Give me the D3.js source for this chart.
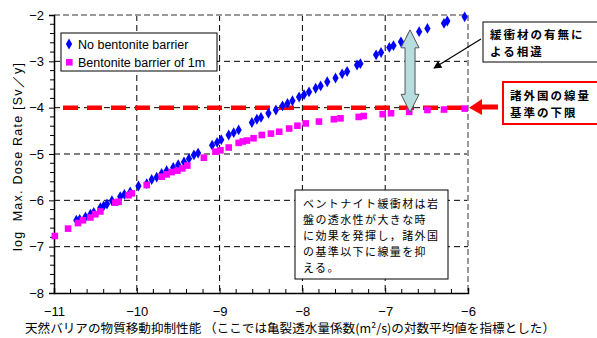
<!DOCTYPE html>
<html>
<head>
<meta charset="utf-8">
<script src="https://cdn.jsdelivr.net/npm/d3@7"></script>
<style>
  html, body { margin: 0; padding: 0; background: #fff; }
  svg { display: block; }
</style>
</head>
<body>
<svg id="chart" width="597" height="338"></svg>
<script>
// Log of maximum dose rate vs. log of fracture transmissivity
const noBarrier = [
  [-10.73,-6.43],[-10.69,-6.41],[-10.62,-6.36],[-10.56,-6.30],[-10.52,-6.26],
  [-10.44,-6.16],[-10.40,-6.12],[-10.36,-6.08],[-10.30,-6.01],[-10.20,-5.92],
  [-10.15,-5.87],[-10.08,-5.82],[-9.98,-5.69],[-9.88,-5.64],[-9.82,-5.55],
  [-9.76,-5.50],[-9.70,-5.42],[-9.64,-5.36],[-9.56,-5.29],[-9.50,-5.23],
  [-9.43,-5.17],[-9.37,-5.10],[-9.31,-5.02],[-9.26,-4.98],[-9.09,-4.81],
  [-9.03,-4.75],[-8.98,-4.69],[-8.89,-4.59],[-8.83,-4.54],[-8.77,-4.48],
  [-8.61,-4.32],[-8.55,-4.25],[-8.50,-4.21],[-8.41,-4.12],[-8.32,-4.05],
  [-8.24,-3.96],[-8.18,-3.91],[-8.12,-3.85],[-8.04,-3.77],[-7.98,-3.72],
  [-7.92,-3.66],[-7.84,-3.58],[-7.78,-3.53],[-7.70,-3.44],[-7.60,-3.36],
  [-7.52,-3.27],[-7.46,-3.22],[-7.34,-3.08],[-7.30,-3.05],[-7.11,-2.86],
  [-7.05,-2.81],[-6.95,-2.70],[-6.90,-2.66],[-6.81,-2.58],[-6.71,-2.47],
  [-6.59,-2.36],[-6.49,-2.29],[-6.29,-2.18],[-6.25,-2.13],[-6.04,-2.04]
];
const withBarrier = [
  [-10.99,-6.77],[-10.83,-6.61],[-10.71,-6.49],[-10.65,-6.43],[-10.56,-6.37],
  [-10.50,-6.30],[-10.44,-6.24],[-10.26,-6.05],[-10.22,-6.03],[-10.10,-5.89],
  [-10.06,-5.85],[-9.88,-5.67],[-9.70,-5.49],[-9.64,-5.44],[-9.58,-5.39],
  [-9.51,-5.36],[-9.45,-5.31],[-9.39,-5.25],[-9.19,-5.08],[-9.05,-4.95],
  [-8.99,-4.92],[-8.89,-4.86],[-8.77,-4.76],[-8.72,-4.73],[-8.67,-4.71],
  [-8.59,-4.66],[-8.49,-4.59],[-8.38,-4.56],[-8.28,-4.52],[-8.16,-4.45],
  [-8.06,-4.39],[-7.96,-4.34],[-7.80,-4.30],[-7.62,-4.25],[-7.54,-4.23],
  [-7.32,-4.20],[-7.26,-4.18],[-7.03,-4.14],[-6.93,-4.12],[-6.71,-4.09],
  [-6.49,-4.05],[-6.29,-4.04],[-6.04,-4.02]
];
const seriesNames = ["No bentonite barrier", "Bentonite barrier of 1m"];
const xTicks = [-11, -10, -9, -8, -7, -6];
const yTicks = [-8, -7, -6, -5, -4, -3, -2];
const limitValue = -4;           // lower bound of foreign dose criteria
const gapAt = -6.7;              // where the difference arrow is placed
const xTitle = "天然バリアの物質移動抑制性能 （ここでは亀裂透水量係数(m²/s)の対数平均値を指標とした）";
const yTitle = "log\u00a0\u00a0Max. Dose Rate [Sv／y]";
const noteDiff = ["緩衝材の有無に", "よる相違"];
const noteLimit = ["諸外国の線量", "基準の下限"];
const noteMain = ["ベントナイト緩衝材は岩", "盤の透水性が大きな時", "に効果を発揮し，諸外国", "の基準以下に線量を抑", "える。"];

const svg = d3.select("#chart");
const L = 54, R = 468, T = 15, B = 293;
const x = d3.scaleLinear().domain([-11, -6]).range([L, R]);
const y = d3.scaleLinear().domain([-8, -2]).range([B, T]);
const numFont = "'Liberation Sans', Arial, sans-serif";
const jpFont = "'Noto Sans CJK JP', sans-serif";

// grid
const grid = svg.append("g").attr("stroke", "#000").attr("stroke-width", 1).attr("stroke-dasharray", "6,4");
grid.selectAll("line.v").data(xTicks.slice(1, -1)).join("line")
  .attr("x1", d => x(d)).attr("x2", d => x(d)).attr("y1", T).attr("y2", B);
grid.selectAll("line.h").data(yTicks.slice(1, -1)).join("line")
  .attr("x1", L).attr("x2", R).attr("y1", d => y(d)).attr("y2", d => y(d));

// top and right frame (grey dashed)
svg.append("path")
  .attr("d", `M${L},${T}H${R}V${B}`)
  .attr("fill", "none").attr("stroke", "#999").attr("stroke-width", 2).attr("stroke-dasharray", "6,3");

// axes
const yAxis = d3.axisLeft(y).tickValues(yTicks).tickSize(5).tickPadding(4).tickFormat(d3.format("d"));
const gy = svg.append("g").attr("transform", `translate(${L},0)`).call(yAxis);
const yMinor = d3.range(-8, -2.0001, 0.2).filter(v => Math.abs(v - Math.round(v)) > 0.01);
gy.selectAll("line.minor").data(yMinor).join("line").attr("class", "minor")
  .attr("x1", -4).attr("x2", 0).attr("y1", d => y(d)).attr("y2", d => y(d)).attr("stroke", "#000");

const xAxis = d3.axisBottom(x).tickValues(xTicks).tickSize(-5).tickPadding(14).tickFormat(d3.format("d"));
const gx = svg.append("g").attr("transform", `translate(0,${B})`).call(xAxis);
const xMinor = d3.range(-11, -6.0001, 0.2).filter(v => Math.abs(v - Math.round(v)) > 0.01);
gx.selectAll("line.minor").data(xMinor).join("line").attr("class", "minor")
  .attr("x1", d => x(d)).attr("x2", d => x(d)).attr("y1", -4).attr("y2", 0).attr("stroke", "#000");

[gx, gy].forEach(g => {
  g.select(".domain").attr("stroke", "#000").attr("stroke-width", 1.5);
  g.selectAll("text").attr("font-family", numFont).attr("font-size", 13).attr("fill", "#000");
});
gy.selectAll(".tick text").attr("x", -10);

// limit line
svg.append("line")
  .attr("x1", L).attr("x2", R).attr("y1", y(limitValue)).attr("y2", y(limitValue))
  .attr("stroke", "#ff0000").attr("stroke-width", 4.5).attr("stroke-dasharray", "15,9").attr("stroke-dashoffset", 15);

// data points
const diamond = d3.symbol().type(d3.symbolDiamond).size(34);
svg.append("g").selectAll("path").data(noBarrier).join("path")
  .attr("d", diamond)
  .attr("transform", d => `translate(${x(d[0])},${y(d[1])})`)
  .attr("fill", "#0000ff");
svg.append("g").selectAll("rect").data(withBarrier).join("rect")
  .attr("x", d => x(d[0]) - 3.3).attr("y", d => y(d[1]) - 3.3)
  .attr("width", 6.6).attr("height", 6.6)
  .attr("fill", "#ff00ff");

// legend
const lg = svg.append("g");
lg.append("rect").attr("x", 61).attr("y", 33).attr("width", 156).attr("height", 38)
  .attr("fill", "#fff").attr("stroke", "#000").attr("stroke-width", 1);
lg.append("path").attr("d", diamond).attr("transform", "translate(69,44)").attr("fill", "#0000ff");
lg.append("rect").attr("x", 66).attr("y", 59).attr("width", 6.6).attr("height", 6.6).attr("fill", "#ff00ff");
lg.selectAll("text").data(seriesNames).join("text")
  .attr("x", 78).attr("y", (d, i) => 49 + i * 18)
  .attr("font-family", numFont).attr("font-size", 12.5).attr("fill", "#000")
  .text(d => d);

// difference arrow (double-headed)
const ax = x(gapAt);
const aTop = y(-2.32), aBot = y(-4.1);
const hw = 9, sw = 5, hh = 18;
svg.append("path")
  .attr("d", `M${ax},${aTop} L${ax + hw},${aTop + hh} L${ax + sw},${aTop + hh} L${ax + sw},${aBot - hh}
              L${ax + hw},${aBot - hh} L${ax},${aBot} L${ax - hw},${aBot - hh} L${ax - sw},${aBot - hh}
              L${ax - sw},${aTop + hh} L${ax - hw},${aTop + hh} Z`)
  .attr("fill", "#b7dde0").attr("stroke", "#555").attr("stroke-width", 1);

// difference label with pointer
svg.append("defs").append("marker").attr("id", "headBlack")
  .attr("viewBox", "0 0 10 10").attr("refX", 9).attr("refY", 5)
  .attr("markerWidth", 8).attr("markerHeight", 8).attr("orient", "auto").attr("markerUnits", "userSpaceOnUse")
  .append("path").attr("d", "M0,0L10,5L0,10Z").attr("fill", "#000");
svg.append("line").attr("x1", 481).attr("y1", 39).attr("x2", 434).attr("y2", 68)
  .attr("stroke", "#000").attr("stroke-width", 1.2).attr("marker-end", "url(#headBlack)");
svg.append("rect").attr("x", 483).attr("y", 22).attr("width", 116).attr("height", 40)
  .attr("fill", "#fff").attr("stroke", "#000").attr("stroke-width", 1);
svg.append("g").selectAll("text").data(noteDiff).join("text")
  .attr("x", 490).attr("y", (d, i) => 39 + i * 17)
  .attr("font-family", jpFont).attr("font-size", 11.5).attr("letter-spacing", 2)
  .attr("font-weight", "bold").attr("fill", "#000")
  .text(d => d);

// limit label with red pointer
svg.append("path")
  .attr("d", `M498,104.5 H482 V99 L469,${y(limitValue)} L482,115 V109.5 H498 Z`)
  .attr("fill", "#ff0000");
svg.append("rect").attr("x", 503).attr("y", 82).attr("width", 96).attr("height", 42)
  .attr("fill", "#fff").attr("stroke", "#ff0000").attr("stroke-width", 2);
svg.append("g").selectAll("text").data(noteLimit).join("text")
  .attr("x", 510).attr("y", (d, i) => 100 + i * 17)
  .attr("font-family", jpFont).attr("font-size", 11.5).attr("letter-spacing", 2)
  .attr("font-weight", "bold").attr("fill", "#000")
  .text(d => d);

// explanatory note
svg.append("rect").attr("x", 295).attr("y", 190).attr("width", 153).attr("height", 89)
  .attr("fill", "#fff").attr("stroke", "#000").attr("stroke-width", 1);
svg.append("g").selectAll("text").data(noteMain).join("text")
  .attr("x", 303).attr("y", (d, i) => 207.5 + i * 16.2)
  .attr("font-family", jpFont).attr("font-size", 11).attr("letter-spacing", 1.4).attr("fill", "#000")
  .text(d => d);

// axis titles
svg.append("text").attr("x", 25).attr("y", 333)
  .attr("font-family", jpFont).attr("font-size", 12.5).attr("fill", "#000")
  .attr("textLength", 530).attr("lengthAdjust", "spacingAndGlyphs")
  .text(xTitle);
svg.append("text").attr("transform", "translate(22,157) rotate(-90)")
  .attr("text-anchor", "middle")
  .attr("font-family", numFont).attr("font-size", 12.5).attr("fill", "#000")
  .attr("textLength", 188).attr("lengthAdjust", "spacing")
  .text(yTitle);
</script>
</body>
</html>
